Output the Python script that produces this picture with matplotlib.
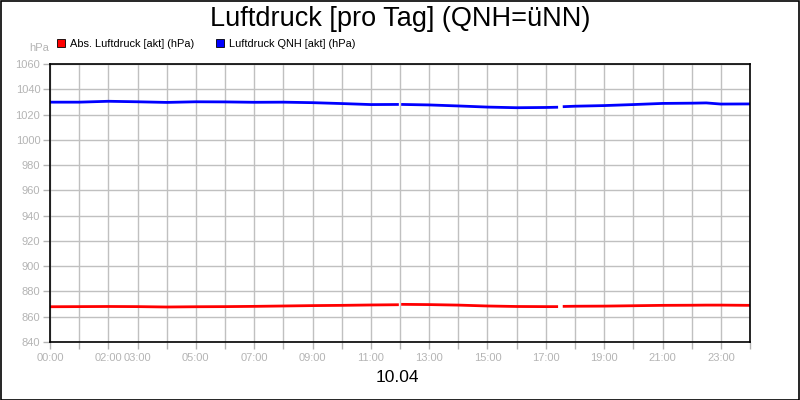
import numpy as np
import matplotlib
matplotlib.use("Agg")
import matplotlib.pyplot as plt
from matplotlib.lines import Line2D
from matplotlib.patches import Rectangle

plt.rcParams['font.family'] = ['Liberation Sans', 'DejaVu Sans']

title = "Luftdruck [pro Tag] (QNH=üNN)"
date_label = "10.04"
series_names = ["Abs. Luftdruck [akt] (hPa)", "Luftdruck QNH [akt] (hPa)"]
series_colors = ["#ff0000", "#0000ff"]

# hours of day; NaN entries mark gaps in the record
hours = [0, 1, 2, 3, 4, 5, 6, 7, 8, 9, 10, 11, 11.96, 12.0, 12.04, 13, 14, 15, 16, 17, 17.42,
         17.5, 17.58, 18, 19, 20, 21, 22, 22.5, 23, 24]
qnh = [1029.8, 1029.8, 1030.5, 1030.1, 1029.6, 1030.1, 1030.0, 1029.7, 1029.8, 1029.4, 1028.7,
       1027.9, 1028.0, np.nan, 1028.0, 1027.6, 1026.8, 1025.9, 1025.4, 1025.6, 1025.8,
       np.nan, 1026.2, 1026.6, 1027.1, 1027.9, 1028.8, 1029.0, 1029.2, 1028.3, 1028.4]
absp = [867.9, 868.0, 868.1, 868.0, 867.7, 867.9, 868.0, 868.2, 868.5, 868.8, 869.0,
        869.3, 869.5, np.nan, 869.8, 869.6, 869.2, 868.5, 868.1, 868.0, 868.0,
        np.nan, 868.2, 868.3, 868.4, 868.7, 869.0, 869.1, 869.2, 869.2, 869.0]

y_ticks = list(range(840, 1061, 20))
x_tick_hours = list(range(0, 25))
x_label_hours = [0, 2, 3, 5, 7, 9, 11, 13, 15, 17, 19, 21, 23]

W, H = 800, 400
fig = plt.figure(figsize=(W / 100, H / 100), dpi=100)
fig.patch.set_facecolor("white")
fig.add_artist(Rectangle((0.5 / W, 0.5 / H), 1 - 1.5 / W, 1 - 1.5 / H, transform=fig.transFigure,
                         fill=False, edgecolor="black", linewidth=1.2))

ax = fig.add_axes([50 / W, (H - 342) / H, 700 / W, 278 / H])
ax.plot(hours, absp, color=series_colors[0], lw=2.0, solid_capstyle="butt")
ax.plot(hours, qnh, color=series_colors[1], lw=2.0, solid_capstyle="butt")

ax.set_xlim(0, 24)
ax.set_ylim(840, 1060)
ax.set_yticks(y_ticks)
ax.set_xticks(x_tick_hours)
ax.set_xticklabels([f"{h:02d}:00" if h in x_label_hours else "" for h in x_tick_hours])
ax.grid(True, color="#c0c0c0", lw=1)
ax.set_axisbelow(True)
grey = "#b4b4b4"
ax.tick_params(axis="both", colors=grey, labelcolor=grey, labelsize=8, length=5, width=1)
ax.tick_params(axis="x", pad=3)
ax.tick_params(axis="y", pad=2)
for s in ax.spines.values():
    s.set_color("black")
    s.set_linewidth(1.2)

fig.text(400 / W, 1 - 19 / H, title, ha="center", va="center", fontsize=19.5, color="black")
fig.text(39 / W, 1 - 48 / H, "hPa", ha="center", va="center", fontsize=8, color=grey)
fig.text(397 / W, 1 - 378 / H, date_label, ha="center", va="center", fontsize=12.5, color="black")

handles = [Line2D([], [], marker="s", linestyle="none", markersize=6, markerfacecolor=c,
                  markeredgecolor="black", markeredgewidth=0.6) for c in series_colors]
fig.legend(handles, series_names, loc="center left", bbox_to_anchor=(57 / W, 1 - 44 / H),
           ncol=2, frameon=False, fontsize=7.9, handlelength=0.8, handletextpad=0.4,
           columnspacing=1.95, borderaxespad=0, borderpad=0)

fig.savefig("out.png", dpi=100, facecolor="white")
